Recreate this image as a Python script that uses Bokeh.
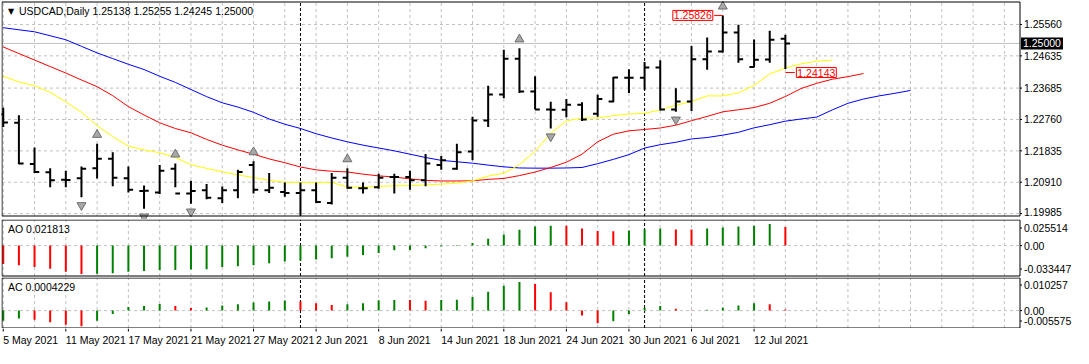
import pandas as pd
from bokeh.plotting import figure
from bokeh.layouts import column
from bokeh.models import Range1d, Label, ColumnDataSource
from bokeh.core.properties import value
from bokeh.embed import file_html
from bokeh.resources import INLINE

# ---------------- data ----------------
SYMBOL = "USDCAD,Daily"
DATES = ["2021-05-05", "2021-05-06", "2021-05-07", "2021-05-10", "2021-05-11", "2021-05-12",
         "2021-05-13", "2021-05-14", "2021-05-17", "2021-05-18", "2021-05-19", "2021-05-20",
         "2021-05-21", "2021-05-24", "2021-05-25", "2021-05-26", "2021-05-27", "2021-05-28",
         "2021-05-31", "2021-06-01", "2021-06-02", "2021-06-03", "2021-06-04", "2021-06-07",
         "2021-06-08", "2021-06-09", "2021-06-10", "2021-06-11", "2021-06-14", "2021-06-15",
         "2021-06-16", "2021-06-17", "2021-06-18", "2021-06-21", "2021-06-22", "2021-06-23",
         "2021-06-24", "2021-06-25", "2021-06-28", "2021-06-29", "2021-06-30", "2021-07-01",
         "2021-07-02", "2021-07-05", "2021-07-06", "2021-07-07", "2021-07-08", "2021-07-09",
         "2021-07-12", "2021-07-13", "2021-07-14"]
OPEN = [1.22914, 1.22660, 1.21448, 1.21204, 1.20980, 1.21028, 1.21325, 1.21605, 1.21028, 1.20652,
        1.20607, 1.21308, 1.20579, 1.20672, 1.20439, 1.20672, 1.21420, 1.20672, 1.20624, 1.20596,
        1.20672, 1.20299, 1.21045, 1.20736, 1.20764, 1.21064, 1.21064, 1.20972, 1.21420, 1.21308,
        1.21813, 1.22726, 1.23494, 1.24548, 1.23587, 1.23054, 1.23050, 1.23195, 1.22928, 1.23287,
        1.23988, 1.23988, 1.24288, 1.23054, 1.23293, 1.24532, 1.24764, 1.25325, 1.24307, 1.24526,
        1.25138]
HIGH = [1.23102, 1.22886, 1.21933, 1.21325, 1.21252, 1.21372, 1.22045, 1.21793, 1.21372, 1.20812,
        1.21420, 1.21465, 1.20952, 1.20860, 1.20784, 1.21280, 1.21532, 1.21185, 1.20904, 1.20904,
        1.20904, 1.21185, 1.21325, 1.20904, 1.21157, 1.21157, 1.21252, 1.21745, 1.21681, 1.22045,
        1.22839, 1.23755, 1.24812, 1.24857, 1.24035, 1.23279, 1.23363, 1.23270, 1.23489, 1.24010,
        1.24240, 1.24456, 1.24504, 1.23679, 1.24924, 1.25176, 1.25826, 1.25549, 1.25115, 1.25372,
        1.25255]
LOW = [1.22541, 1.21437, 1.21185, 1.20764, 1.20764, 1.20467, 1.21017, 1.20792, 1.20607, 1.20131,
       1.20560, 1.20764, 1.20279, 1.20411, 1.20299, 1.20439, 1.20579, 1.20596, 1.20484, 1.19923,
       1.20299, 1.20251, 1.20719, 1.20579, 1.20719, 1.20579, 1.20691, 1.20792, 1.21280, 1.21280,
       1.21560, 1.22541, 1.23382, 1.23539, 1.23054, 1.22494, 1.22822, 1.22718, 1.22839, 1.23270,
       1.23539, 1.23635, 1.23026, 1.22990, 1.23007, 1.24223, 1.24736, 1.24428, 1.24290, 1.24428,
       1.24245]
CLOSE = [1.22670, 1.21465, 1.21213, 1.20972, 1.20975, 1.21308, 1.21605, 1.21045, 1.20691, 1.20660,
         1.21252, 1.20579, 1.20652, 1.20456, 1.20672, 1.21213, 1.20691, 1.20747, 1.20596, 1.20672,
         1.20327, 1.21045, 1.20747, 1.20736, 1.21045, 1.21064, 1.20972, 1.21465, 1.21560, 1.21793,
         1.22726, 1.23494, 1.24548, 1.23587, 1.23054, 1.23050, 1.23195, 1.22760, 1.23363, 1.24000,
         1.23988, 1.24288, 1.23054, 1.23293, 1.24532, 1.24764, 1.25325, 1.24532, 1.24520, 1.25109,
         1.25000]

# Alligator lines (shifted forward, so they run past the last bar)
LIPS = [1.24035, 1.23867, 1.23755, 1.23559, 1.23279, 1.22970, 1.22578, 1.22256, 1.21975, 1.21863,
        1.21779, 1.21639, 1.21429, 1.21317, 1.21219, 1.21126, 1.21050, 1.20966, 1.20910, 1.20905,
        1.20905, 1.20905, 1.20770, 1.20770, 1.20790, 1.20804, 1.20812, 1.20832, 1.20854, 1.20882,
        1.20952, 1.21092, 1.21176, 1.21429, 1.21821, 1.22354, 1.22718, 1.22802, 1.22802, 1.22872,
        1.22920, 1.22942, 1.23041, 1.23181, 1.23287, 1.23455, 1.23455, 1.23545, 1.23764, 1.24100,
        1.24274, 1.24400, 1.24476, 1.24509]
TEETH = [1.24896, 1.24703, 1.24512, 1.24319, 1.24128, 1.23924, 1.23727, 1.23461, 1.23139, 1.22892,
         1.22662, 1.22494, 1.22368, 1.22172, 1.22003, 1.21863, 1.21737, 1.21597, 1.21485, 1.21359,
         1.21275, 1.21233, 1.21213, 1.21148, 1.21098, 1.21064, 1.21008, 1.20966, 1.20947, 1.20947,
         1.20952, 1.20994, 1.21022, 1.21106, 1.21210, 1.21345, 1.21499, 1.21737, 1.22101, 1.22326,
         1.22424, 1.22466, 1.22508, 1.22592, 1.22724, 1.22850, 1.22985, 1.23046, 1.23111, 1.23237,
         1.23436, 1.23671, 1.23825, 1.23946, 1.24022, 1.24114]
JAW = [1.25465, 1.25403, 1.25344, 1.25227, 1.25109, 1.24916, 1.24722, 1.24554, 1.24386, 1.24232,
       1.24033, 1.23853, 1.23643, 1.23433, 1.23251, 1.23125, 1.22970, 1.22774, 1.22620, 1.22494,
       1.22340, 1.22214, 1.22101, 1.22003, 1.21919, 1.21835, 1.21737, 1.21639, 1.21555, 1.21513,
       1.21471, 1.21415, 1.21364, 1.21331, 1.21325, 1.21325, 1.21331, 1.21345, 1.21457, 1.21583,
       1.21723, 1.21919, 1.22017, 1.22088, 1.22186, 1.22228, 1.22298, 1.22382, 1.22514, 1.22606,
       1.22710, 1.22774, 1.22830, 1.23041, 1.23237, 1.23363, 1.23455, 1.23531, 1.23615]

AO = [-0.02155, -0.02304, -0.02527, -0.02713, -0.03084, -0.033447, -0.03307, -0.03233, -0.03084, -0.02973,
      -0.02898, -0.02861, -0.02820, -0.02787, -0.02527, -0.02415, -0.02304, -0.02081, -0.01858, -0.01747,
      -0.01635, -0.01486, -0.01301, -0.01115, -0.00855, -0.00557, -0.00520, -0.00297, -0.00111, -0.00037,
      0.00297, 0.00818, 0.01301, 0.01858, 0.02232, 0.02344, 0.02330, 0.02009, 0.01711, 0.01674,
      0.01786, 0.01934, 0.02009, 0.01897, 0.01880, 0.02009, 0.02120, 0.02232, 0.02344, 0.025514,
      0.021813]
AC = [-0.00361, -0.00284, -0.00328, -0.00415, -0.00503, -0.005575, -0.00361, -0.00120, 0.00131, 0.00164,
      0.00240, 0.00164, 0.00098, 0.00110, 0.00186, 0.00230, 0.00295, 0.00328, 0.00361, 0.00328,
      0.00262, 0.00197, 0.00230, 0.00262, 0.00370, 0.00385, 0.00380, 0.00350, 0.00380, 0.00390,
      0.00492, 0.00678, 0.00896, 0.010257, 0.00958, 0.00661, 0.00297, -0.00176, -0.00451, -0.00385,
      -0.00121, 0.00099, 0.00165, 0.00066, 0.00015, 0.00033, 0.00099, 0.00187, 0.00264, 0.00231,
      0.0004229]
AO_FIRST_UP = False
AC_FIRST_UP = True

UP_FRACTALS = [6, 11, 16, 22, 33, 46]
DOWN_FRACTALS = [5, 9, 12, 19, 35, 43]
PRICE_TICKS = [1.19985, 1.20910, 1.21835, 1.22760, 1.23685, 1.24635, 1.25560]
LOW_MARKER = 1.24143

# ---------------- style / layout ----------------
FONT = "Liberation Sans"
FS = "10.5px"
GRID_COLOR = "#C0C0C0"
GRID_DASH = "3 3"
GREEN = "#008000"
RED = "#FF0000"
FRAME_W = 1071
BOX_W = 1018          # width of the chart boxes in px (rest = price scale)
BOX_START, BOX_END = -0.08, 65.0
LEFT_M = 0.5

n = len(CLOSE)
idx = list(range(n))
dts = pd.to_datetime(DATES)
label_idx = idx[::4]
date_labels = [f"{d.day} {d.strftime('%b %Y')}" for d in dts[::4]]
separators = [i for i in range(1, n) if dts[i].month != dts[i - 1].month]

bpp = (BOX_END - BOX_START) / BOX_W   # bars per pixel
xr = Range1d(BOX_START - LEFT_M * bpp, BOX_START - LEFT_M * bpp + FRAME_W * bpp)
grid_x = list(range(0, 66, 2))


def panel(box_bot, box_top, box_h, top_m, bottom_m):
    pp = (box_top - box_bot) / box_h
    yr = Range1d(box_bot - bottom_m * pp, box_top + top_m * pp)
    p = figure(frame_width=FRAME_W, frame_height=int(round(box_h + top_m + bottom_m)),
               x_range=xr, y_range=yr, x_axis_location=None, y_axis_location=None,
               toolbar_location=None, output_backend="svg",
               min_border_left=1, min_border_right=0, min_border_top=0, min_border_bottom=0,
               outline_line_color=None, background_fill_color="white", border_fill_color="white")
    p.grid.visible = False
    k = len(grid_x)
    p.segment(x0=grid_x, y0=[box_bot] * k, x1=grid_x, y1=[box_top] * k,
              line_color=GRID_COLOR, line_dash=GRID_DASH, line_width=1)
    m = len(separators)
    p.segment(x0=separators, y0=[box_bot] * m, x1=separators, y1=[box_top] * m,
              line_color="black", line_dash="3 2", line_width=1)
    return p, pp


def hgrid(p, ys):
    k = len(ys)
    p.segment(x0=[BOX_START] * k, y0=ys, x1=[BOX_END] * k, y1=ys,
              line_color=GRID_COLOR, line_dash=GRID_DASH, line_width=1)


def scale_labels(p, ys, texts, offsets=None):
    k = len(ys)
    offsets = offsets or [0] * k
    p.segment(x0=[BOX_END] * k, y0=ys, x1=[BOX_END + 2 * bpp] * k, y1=ys,
              line_color="black", line_width=1)
    p.text(x=[BOX_END] * k, y=ys, text=texts, x_offset=4, y_offset=offsets, text_align="left",
           text_baseline="middle", text_font=value(FONT), text_font_size=FS, text_color="black")


def frame_box(p, box_bot, box_top):
    p.quad(left=[BOX_START], right=[BOX_END], bottom=[box_bot], top=[box_top],
           fill_alpha=0, line_color="black", line_width=1)


# ---------------- main price panel ----------------
M_BOT, M_TOP = 1.19915, 1.26222
pm, ppm = panel(M_BOT, M_TOP, 214, 1.5, 3.5)
hgrid(pm, PRICE_TICKS)
pm.segment(x0=[BOX_START], y0=[CLOSE[-1]], x1=[BOX_END], y1=[CLOSE[-1]],
           line_color=GRID_COLOR, line_width=1)

pm.line(list(range(len(JAW))), JAW, line_color="#0000FF", line_width=1)
pm.line(list(range(len(TEETH))), TEETH, line_color="#FF0000", line_width=1)
pm.line(list(range(len(LIPS))), LIPS, line_color="#FFFF00", line_width=1)

TICK = 0.3
src = ColumnDataSource(dict(x=idx, xl=[i - TICK for i in idx], xr=[i + TICK for i in idx],
                            o=OPEN, h=HIGH, l=LOW, c=CLOSE))
pm.segment(x0="x", y0="l", x1="x", y1="h", source=src, line_color="black", line_width=2)
pm.segment(x0="xl", y0="o", x1="x", y1="o", source=src, line_color="black", line_width=2)
pm.segment(x0="x", y0="c", x1="xr", y1="c", source=src, line_color="black", line_width=2)

pm.scatter(x=UP_FRACTALS, y=[HIGH[i] + 9 * ppm for i in UP_FRACTALS], marker="triangle",
           size=9, fill_color="#A8A8A8", line_color="#6E6E6E", line_width=1)
pm.scatter(x=DOWN_FRACTALS, y=[LOW[i] - 8 * ppm for i in DOWN_FRACTALS], marker="inverted_triangle",
           size=9, fill_color="#A8A8A8", line_color="#6E6E6E", line_width=1)

hi_i = HIGH.index(max(HIGH))
pm.segment(x0=[hi_i - 0.55], y0=[HIGH[hi_i]], x1=[hi_i], y1=[HIGH[hi_i]], line_color=RED, line_width=1)
pm.add_layout(Label(x=hi_i, y=HIGH[hi_i], x_offset=-10, text=f"{HIGH[hi_i]:.5f}",
                    text_align="right", text_baseline="middle", text_color=RED,
                    text_font=FONT, text_font_size=FS, border_line_color=RED,
                    background_fill_color="white", padding=1))
pm.segment(x0=[n - 1], y0=[LOW_MARKER], x1=[n - 1 + 0.6], y1=[LOW_MARKER], line_color=RED, line_width=1)
pm.add_layout(Label(x=n - 1, y=LOW_MARKER, x_offset=11, text=f"{LOW_MARKER:.5f}",
                    text_align="left", text_baseline="middle", text_color=RED,
                    text_font=FONT, text_font_size=FS, border_line_color=RED,
                    background_fill_color="white", padding=1))

scale_labels(pm, PRICE_TICKS, [f"{t:.5f}" for t in PRICE_TICKS],
             offsets=[-1.5] + [0] * (len(PRICE_TICKS) - 1))
pm.add_layout(Label(x=BOX_END, y=CLOSE[-1], x_offset=1, text=f"{CLOSE[-1]:.5f}",
                    text_align="left", text_baseline="middle", text_color="white",
                    text_font=FONT, text_font_size=FS, background_fill_color="black", padding=2))

header = f"{SYMBOL}  {OPEN[-1]:.5f} {HIGH[-1]:.5f} {LOW[-1]:.5f} {CLOSE[-1]:.5f}"
pm.text(x=[BOX_START], y=[M_TOP], text=["▼"], x_offset=6, y_offset=5,
        text_baseline="top", text_font=value("DejaVu Sans"), text_font_size="8px", text_color="black")
pm.text(x=[BOX_START], y=[M_TOP], text=[header], x_offset=17, y_offset=3,
        text_baseline="top", text_font=value(FONT), text_font_size=FS, text_color="black")
frame_box(pm, M_BOT, M_TOP)


def colors(vals, first_up):
    out = [GREEN if first_up else RED]
    for i in range(1, len(vals)):
        out.append(GREEN if vals[i] > vals[i - 1] else RED)
    return out


def osc_panel(box_bot, box_top, box_h, top_m, bottom_m, vals, first_up, name, fmt, lab_top_px, lab_bot_px):
    p, pp = panel(box_bot, box_top, box_h, top_m, bottom_m)
    hgrid(p, [0])
    p.segment(x0=idx, y0=[0] * n, x1=idx, y1=vals, line_color=colors(vals, first_up), line_width=2)
    t_hi = box_top - lab_top_px * pp
    t_lo = box_bot + lab_bot_px * pp
    scale_labels(p, [t_hi, 0, t_lo], [f"{max(vals):.6f}", "0.00", f"{min(vals):.6f}"])
    p.text(x=[BOX_START], y=[box_top], text=[f"{name} {vals[-1]:{fmt}}"], x_offset=6, y_offset=3,
           text_baseline="top", text_font=value(FONT), text_font_size=FS, text_color="black")
    frame_box(p, box_bot, box_top)
    return p


pa = osc_panel(-0.0357, 0.0301, 56, 0.5, 1.5, AO, AO_FIRST_UP, "AO", ".6f", 8, 7)
pc = osc_panel(-0.00624, 0.0117, 50, 0.5, 0.5, AC, AC_FIRST_UP, "AC", ".7f", 7, 7)

# ---------------- date strip ----------------
pdt = figure(frame_width=FRAME_W, frame_height=20, x_range=xr, y_range=Range1d(0, 1),
             x_axis_location=None, y_axis_location=None, toolbar_location=None,
             output_backend="svg", min_border_left=1, min_border_right=0,
             min_border_top=0, min_border_bottom=0, outline_line_color=None,
             background_fill_color="white", border_fill_color="white")
pdt.grid.visible = False
k = len(label_idx)
pdt.segment(x0=label_idx, y0=[1] * k, x1=label_idx, y1=[0.85] * k, line_color="black", line_width=1)
pdt.text(x=label_idx, y=[0.42] * k, text=date_labels, text_align="left", text_baseline="middle",
         text_font=value(FONT), text_font_size=FS, text_color="black")

layout = column(pm, pa, pc, pdt, spacing=0)
open("out.html", "w").write(file_html(layout, INLINE))
